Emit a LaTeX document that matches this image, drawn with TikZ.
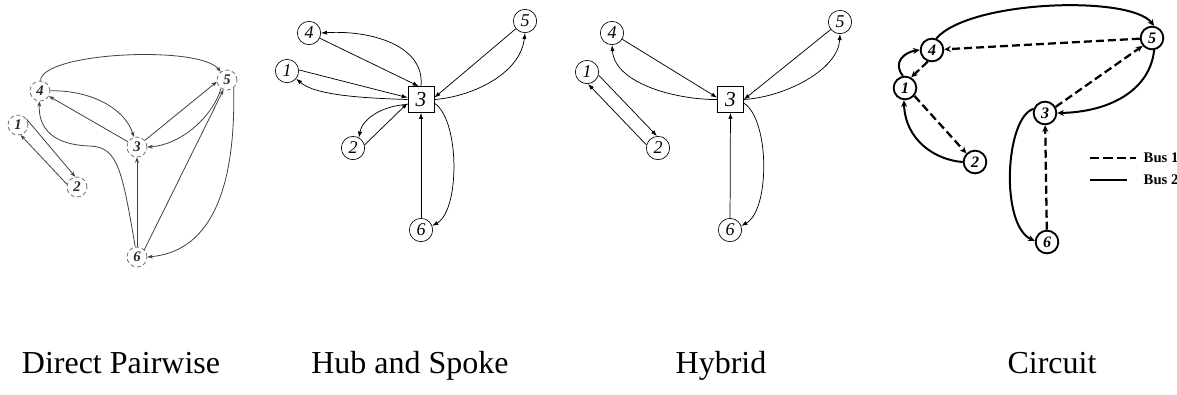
\documentclass[tikz,border=0pt]{standalone}
\usepackage{fontspec}
\setmainfont{Liberation Serif}
\usetikzlibrary{arrows.meta}
\tikzset{
  pnode/.style={circle, draw=black!55, densely dashed, line width=0.6pt, minimum size=15pt, inner sep=0pt,
    font=\bfseries\itshape\fontsize{11}{11}\selectfont, text=black!85},
  pedge/.style={draw=black!75, line width=0.6pt, -{Stealth[length=4pt,width=3pt]}},
  hnode/.style={circle, draw, line width=0.5pt, minimum size=17.5pt, inner sep=0pt,
    font=\itshape\fontsize{13.5}{13.5}\selectfont},
  hub/.style={rectangle, draw, line width=0.5pt, minimum size=19.5pt, inner sep=0pt,
    font=\itshape\fontsize{16}{16}\selectfont},
  hedge/.style={line width=0.55pt, -{Latex[length=4.5pt,width=3.2pt]}},
  cnode/.style={circle, draw, line width=1.4pt, minimum size=17pt, inner sep=0pt,
    font=\bfseries\itshape\fontsize{12}{12}\selectfont},
  busone/.style={line width=1.7pt, dash pattern=on 6pt off 3pt, -{Stealth[length=5pt,width=4.5pt]}},
  bustwo/.style={line width=1.5pt, -{Stealth[length=5pt,width=4.5pt]}},
  caption/.style={anchor=base, font=\fontsize{24}{24}\selectfont},
  legendtext/.style={anchor=west, font=\bfseries\fontsize{11}{11}\selectfont}
}
\begin{document}
\begin{tikzpicture}[x=0.75pt,y=-0.75pt]
\useasboundingbox (0,0) rectangle (1177,394);

% ---------- Direct Pairwise ----------
\node[pnode] (a4) at (40,91) {4};
\node[pnode] (a1) at (18,125) {1};
\node[pnode] (a3) at (137,147) {3};
\node[pnode] (a5) at (227,80) {5};
\node[pnode] (a6) at (137,257) {6};
\node[pnode] (a2) at (77,187) {2};
\draw[pedge] (a4) .. controls (42,52) and (200,45) .. (a5);
\draw[pedge] (a4) .. controls (90,90) and (125,108) .. (a3);
\draw[pedge] (a3) -- (a4);
\draw[pedge] (a6) .. controls (122,170) and (118,147) .. (90,146) .. controls (55,145) and (38,130) .. (a4);
\draw[pedge] (a1.35) -- (a2.100);
\draw[pedge] (a2.165) -- (a1.-75);
\draw[pedge] (a3.40) -- (a5.190);
\draw[pedge] (a5.235) .. controls (212,118) and (180,145) .. (a3.east);
\draw[pedge] (a6) -- (a3);
\draw[pedge] (a6.45) -- (a5.250);
\draw[pedge] (a5.-50) .. controls (236,200) and (205,252) .. (a6.east);

% ---------- Hub and Spoke ----------
\node[hnode] (b4) at (309,33) {4};
\node[hnode] (b1) at (287,71) {1};
\node[hub]   (b3) at (421,99.5) {3};
\node[hnode] (b2) at (353,148) {2};
\node[hnode] (b6) at (421,230) {6};
\node[hnode] (b5) at (525,21) {5};
\draw[hedge] (b4) -- (b3.100);
\draw[hedge] (b3.north) .. controls (425,45) and (370,30) .. (b4.east);
\draw[hedge] (b1.5) -- (b3.172);
\draw[hedge] (b3.west) .. controls (360,98) and (315,95) .. (b1.-40);
\draw[hedge] (b2.15) -- (b3.195);
\draw[hedge] (b3.200) .. controls (380,106) and (362,120) .. (b2.60);
\draw[hedge] (b5) -- (b3.8);
\draw[hedge] (b3.east) .. controls (470,97) and (520,75) .. (b5.south);
\draw[hedge] (b6) -- (b3);
\draw[hedge] (b3.-15) .. controls (460,120) and (460,210) .. (b6.20);

% ---------- Hybrid ----------
\node[hnode] (c4) at (612,33) {4};
\node[hnode] (c1) at (587,72) {1};
\node[hnode] (c2) at (658,148) {2};
\node[hub]   (c3) at (730.5,99.5) {3};
\node[hnode] (c5) at (840,22) {5};
\node[hnode] (c6) at (730,230) {6};
\draw[hedge] (c4) -- (c3.172);
\draw[hedge] (c3.west) .. controls (680,100) and (615,85) .. (c4.south);
\draw[hedge] (c1.-15) -- (c2.95);
\draw[hedge] (c2.165) -- (c1.-85);
\draw[hedge] (c5) -- (c3.east);
\draw[hedge] (c3.east) .. controls (785,97) and (838,70) .. (c5.south);
\draw[hedge] (c6) -- (c3);
\draw[hedge] (c3.-15) .. controls (770,120) and (770,210) .. (c6.20);

% ---------- Circuit ----------
\node[cnode] (d4) at (932,50) {4};
\node[cnode] (d1) at (905,88) {1};
\node[cnode] (d2) at (975,162) {2};
\node[cnode] (d5) at (1152,38) {5};
\node[cnode] (d3) at (1045,113) {3};
\node[cnode] (d6) at (1047,242) {6};
\draw[bustwo] (d4.70) .. controls (970,0) and (1130,-5) .. (d5.80);
\draw[busone] (d5) -- (d4);
\draw[bustwo] (d1.100) .. controls (892,62) and (905,52) .. (d4.west);
\draw[busone] (d4.250) -- (d1.60);
\draw[busone] (d1.-40) -- (d2.135);
\draw[bustwo] (d2.180) .. controls (935,160) and (905,140) .. (d1.-95);
\draw[busone] (d3.30) -- (d5.220);
\draw[bustwo] (d5.-80) .. controls (1150,90) and (1110,112) .. (d3.east);
\draw[busone] (d6) -- (d3);
\draw[bustwo] (d3.160) .. controls (1005,118) and (1000,225) .. (d6.175);

% legend
\coordinate (l1a) at (1090,158);
\coordinate (l1b) at (1136,158);
\coordinate (l2a) at (1090,180);
\coordinate (l2b) at (1127,180);
\draw[line width=2pt, dash pattern=on 7pt off 3pt] (l1a) -- (l1b);
\draw[line width=1.8pt] (l2a) -- (l2b);
\node[legendtext] (bus1) at (1139,158) {Bus 1};
\node[legendtext] (bus2) at (1139,180) {Bus 2};

% ---------- captions ----------
\node[caption] (cap1) at (121,373) {Direct Pairwise};
\node[caption] (cap2) at (410,373) {Hub and Spoke};
\node[caption] (cap3) at (721,373) {Hybrid};
\node[caption] (cap4) at (1052,373) {Circuit};
\end{tikzpicture}
\end{document}
